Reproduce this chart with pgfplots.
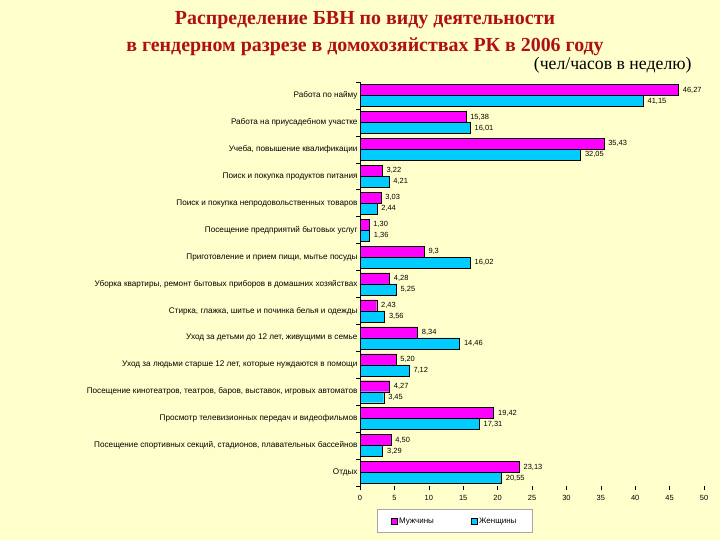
\documentclass[border=0pt]{standalone}
\usepackage{pgfplots}
\pgfplotsset{compat=1.18}
\usepackage{fontspec}
\setmainfont{Liberation Sans}
\newfontfamily\titlefont{Liberation Serif}
\definecolor{bgyellow}{RGB}{255,255,204}
\definecolor{men}{RGB}{255,0,255}
\definecolor{women}{RGB}{0,204,255}
\definecolor{titlered}{RGB}{176,16,20}
\begin{document}
\begin{tikzpicture}[x=1bp,y=1bp]
\fill[bgyellow] (0,0) rectangle (720,540);
\node[font=\titlefont\bfseries\fontsize{20}{22}\selectfont, text=titlered] at (365,520) {Распределение БВН по виду деятельности};
\node[font=\titlefont\bfseries\fontsize{20}{22}\selectfont, text=titlered] at (365,493) {в гендерном разрезе в домохозяйствах РК в 2006 году};
\node[font=\titlefont\fontsize{17.8}{20}\selectfont, anchor=east] at (695,475) {(чел/часов в неделю)};
\begin{axis}[
  at={(360bp,54bp)}, anchor=south west,
  width=344bp, height=404bp, scale only axis,
  xbar, bar width=11bp,
  xmin=0, xmax=50, ymin=-0.5, ymax=14.5,
  xtick={0,5,...,50},
  ytick={0,...,14},
  yticklabels={Отдых,
    {Посещение спортивных секций, стадионов, плавательных бассейнов},
    {Просмотр телевизионных передач и видеофильмов},
    {Посещение кинотеатров, театров, баров, выставок, игровых автоматов},
    {Уход за людьми старше 12 лет, которые нуждаются в помощи},
    {Уход за детьми до 12 лет, живущими в семье},
    {Стирка, глажка, шитье и починка белья и одежды},
    {Уборка квартиры, ремонт бытовых приборов в домашних хозяйствах},
    {Приготовление и прием пищи, мытье посуды},
    {Посещение предприятий бытовых услуг},
    {Поиск и покупка непродовольственных товаров},
    {Поиск и покупка продуктов питания},
    {Учеба, повышение квалификации},
    {Работа на приусадебном участке},
    {Работа по найму}},
  minor ytick={-0.5,0.5,...,14.5},
  major tick length=4bp,
  minor tick length=4bp,
  tick align=outside,
  major y tick style={draw=none},
  minor y tick style={black, line width=0.5bp},
  major x tick style={black, line width=0.5bp},
  axis y line*=left,
  axis x line*=bottom,
  x axis line style={draw=none},
  y axis line style={black, line width=0.8bp},
  tick label style={font=\fontsize{7.5}{8}\selectfont},
  yticklabel style={font=\fontsize{8.2}{9}\selectfont, xshift=5bp},
  /pgf/number format/assume math mode=true,
  xticklabel style={yshift=-2bp},
  point meta=explicit symbolic,
  nodes near coords,
  every node near coord/.append style={font=\fontsize{7.5}{8}\selectfont, anchor=west, xshift=1bp},
  legend style={at={(0.275,-0.087)}, anchor=center, draw=gray!70, fill=white,
    legend columns=2, font=\fontsize{8}{9}\selectfont,
    /tikz/every even column/.append style={column sep=35bp},
    inner xsep=14bp, inner ysep=6bp},
  legend image code/.code={\filldraw[#1, draw=black, line width=0.3bp] (0bp,-3bp) rectangle (6bp,3bp);},
  clip=false,
]
\addplot[fill=men, draw=black, line width=0.4bp, bar shift=5.5bp] coordinates {
 (46.27,14) [46,27]
 (15.38,13) [15,38]
 (35.43,12) [35,43]
 (3.22,11) [3,22]
 (3.03,10) [3,03]
 (1.30,9) [1,30]
 (9.3,8) [9,3]
 (4.28,7) [4,28]
 (2.43,6) [2,43]
 (8.34,5) [8,34]
 (5.20,4) [5,20]
 (4.27,3) [4,27]
 (19.42,2) [19,42]
 (4.50,1) [4,50]
 (23.13,0) [23,13]
};
\addlegendentry{Мужчины}
\addplot[fill=women, draw=black, line width=0.4bp, bar shift=-5.5bp] coordinates {
 (41.15,14) [41,15]
 (16.01,13) [16,01]
 (32.05,12) [32,05]
 (4.21,11) [4,21]
 (2.44,10) [2,44]
 (1.36,9) [1,36]
 (16.02,8) [16,02]
 (5.25,7) [5,25]
 (3.56,6) [3,56]
 (14.46,5) [14,46]
 (7.12,4) [7,12]
 (3.45,3) [3,45]
 (17.31,2) [17,31]
 (3.29,1) [3,29]
 (20.55,0) [20,55]
};
\addlegendentry{Женщины}
\end{axis}
\end{tikzpicture}
\end{document}
